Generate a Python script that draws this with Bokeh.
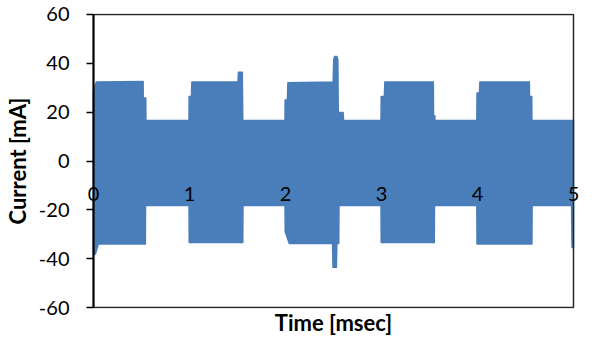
from bokeh.plotting import figure
from bokeh.models import Range1d, FixedTicker, Label
from bokeh.embed import file_html
from bokeh.resources import INLINE

# ---- data (envelope of the dense current signal) ----
upper_t = [0.000, 0.010, 0.030, 0.517, 0.518, 0.544, 0.546, 0.995, 0.996, 1.020,
           1.025, 1.505, 1.510, 1.550, 1.555, 1.995, 1.996, 2.020, 2.025, 2.497,
           2.502, 2.512, 2.535, 2.545, 2.550, 2.600, 2.605, 2.995, 2.997, 3.030,
           3.035, 3.540, 3.542, 3.555, 3.557, 3.993, 3.995, 4.020, 4.025, 4.540,
           4.542, 4.565, 4.567, 5.000]
upper_v = [28.0, 30.0, 32.4, 32.6, 25.8, 25.8, 16.6, 16.6, 26.4, 26.4,
           32.4, 32.4, 36.3, 36.3, 16.6, 16.6, 25.0, 25.0, 32.0, 32.4,
           41.5, 42.8, 42.8, 41.5, 19.9, 19.9, 16.6, 16.6, 26.4, 26.4,
           32.4, 32.4, 18.5, 18.5, 16.6, 16.6, 27.8, 27.8, 32.4, 32.4,
           26.4, 26.4, 16.6, 16.6]

lower_t = [0.000, 0.020, 0.050, 0.540, 0.542, 0.995, 0.997, 1.555, 1.557, 1.995,
           1.997, 2.040, 2.490, 2.495, 2.530, 2.535, 2.555, 2.557, 2.995, 2.997,
           3.550, 3.552, 3.993, 3.995, 4.567, 4.569, 4.980, 4.985, 5.000]
lower_v = [-38.5, -38.0, -34.0, -34.0, -18.2, -18.2, -33.4, -33.4, -18.2, -18.2,
           -29.0, -33.8, -33.8, -43.5, -43.5, -33.8, -33.8, -18.2, -18.2, -33.4,
           -33.4, -18.2, -18.2, -34.0, -34.0, -18.2, -18.2, -35.4, -35.4]

x_ticks = [0, 1, 2, 3, 4, 5]
x_tick_labels = ["0", "1", "2", "3", "4", "5"]
y_ticks = [-60, -40, -20, 0, 20, 40, 60]
y_tick_labels = ["-60", "-40", "-20", "0", "20", "40", "60"]

BLUE = "#4A7EBB"
FONT = "Lato"

# the frame is a little wider than the 0..5 / -60..60 plot box so that the
# tick labels "0" and "5", which straddle the box edges, are not clipped
p = figure(width=580, height=338, output_backend="svg", toolbar_location=None,
           x_range=Range1d(-0.073, 5.073), y_range=Range1d(-60.4, 60.4),
           min_border_left=84, min_border_right=0, min_border_top=13,
           min_border_bottom=26)
p.grid.visible = False
p.outline_line_color = None

xs = upper_t + lower_t[::-1]
ys = upper_v + lower_v[::-1]
p.patch(xs, ys, fill_color=BLUE, line_color=BLUE, line_width=1.5,
        line_join="round")

# plot-area border (Excel plot area) and the vertical value axis line at x = 0
x0, x1 = x_ticks[0], x_ticks[-1]
y0, y1 = y_ticks[0], y_ticks[-1]
p.quad(left=[x0], right=[x1], bottom=[y0], top=[y1], fill_color=None,
       line_color="#262626", line_width=1.5)
p.segment(x0=[x0], y0=[y0], x1=[x0], y1=[y1], line_color="black", line_width=2)

# y axis: ticks drawn inward from the frame edge so they end at the box edge
ya = p.yaxis[0]
ya.ticker = FixedTicker(ticks=y_ticks)
ya.major_label_overrides = {t: s for t, s in zip(y_ticks, y_tick_labels)}
ya.axis_line_color = None
ya.major_tick_line_color = "black"
ya.major_tick_line_width = 1.5
ya.major_tick_out = 0
ya.major_tick_in = 7
ya.minor_tick_line_color = None
ya.major_label_text_font = FONT
ya.major_label_text_font_size = "20px"
ya.major_label_text_color = "black"
ya.major_label_standoff = 17
ya.axis_label = "Current [mA]"
ya.axis_label_text_font = FONT
ya.axis_label_text_font_size = "22px"
ya.axis_label_text_font_style = "bold"
ya.axis_label_text_color = "black"
ya.axis_label_standoff = 5

# bottom axis: only the title
xb = p.xaxis[0]
xb.ticker = FixedTicker(ticks=[])
xb.axis_line_color = None
xb.major_tick_line_color = None
xb.minor_tick_line_color = None
xb.major_tick_out = 0
xb.major_label_standoff = 0
xb.axis_label = "Time [msec]"
xb.axis_label_text_font = FONT
xb.axis_label_text_font_size = "22px"
xb.axis_label_text_font_style = "bold"
xb.axis_label_text_color = "black"
xb.axis_label_standoff = 0

# x tick labels sitting just below y = 0 (as in the Excel chart)
for t, s in zip(x_ticks, x_tick_labels):
    p.add_layout(Label(x=t, y=0, text=s, y_offset=-33,
                       text_align="center", text_baseline="middle",
                       text_font=FONT, text_font_size="20px",
                       text_color="black"))

open("out.html", "w").write(file_html(p, INLINE))
